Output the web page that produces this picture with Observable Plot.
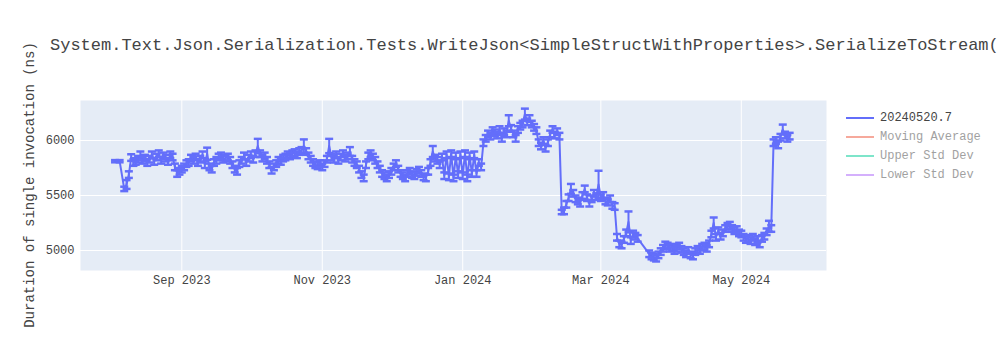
<!DOCTYPE html>
<html>
<head>
<meta charset="utf-8">
<script src="https://cdn.jsdelivr.net/npm/d3@7"></script>
<script src="https://cdn.jsdelivr.net/npm/@observablehq/plot@0.6"></script>
<style>
  html, body { margin: 0; padding: 0; background: #fff; }
  #wrap { position: relative; width: 1000px; height: 350px; overflow: hidden; font-family: "Courier New", "Liberation Mono", monospace; }
  #title { position: absolute; left: 50px; top: 36px; font-size: 17px; color: #444; white-space: nowrap; }
  #ylabel { position: absolute; left: 30px; top: 185px; font-size: 14px; color: #444; white-space: nowrap; transform: translate(-50%, -50%) rotate(-90deg); }
  #legend { position: absolute; left: 846px; top: 108px; font-size: 12px; color: #444; }
  .item { height: 19px; display: flex; align-items: center; white-space: nowrap; }
  .swatch { width: 28px; height: 2px; margin-right: 6px; }
  .off { opacity: 0.5; }
</style>
</head>
<body>
<div id="wrap">
  <div id="chart"></div>
  <div id="title"></div>
  <div id="ylabel"></div>
  <div id="legend"></div>
</div>
<script>
const chartTitle = "System.Text.Json.Serialization.Tests.WriteJson<SimpleStructWithProperties>.SerializeToStream(";
const yLabel = "Duration of single invocation (ns)";
const seriesNames = ["20240520.7", "Moving Average", "Upper Std Dev", "Lower Std Dev"];
const seriesColors = ["#636efa", "#EF553B", "#00cc96", "#ab63fa"];
const seriesVisible = [true, false, false, false];
const xTicks = ["2023-09-01", "2023-11-01", "2024-01-01", "2024-03-01", "2024-05-01"];
const yTicks = [5000, 5500, 6000];

const dates = [
  "2023-08-03","2023-08-05","2023-08-07","2023-08-08","2023-08-09","2023-08-10","2023-08-11","2023-08-12","2023-08-13","2023-08-14","2023-08-15","2023-08-16","2023-08-17","2023-08-18","2023-08-19","2023-08-20","2023-08-21","2023-08-22","2023-08-23","2023-08-24","2023-08-25","2023-08-26","2023-08-27","2023-08-28","2023-08-29","2023-08-30","2023-08-31",
  "2023-09-01","2023-09-02","2023-09-03","2023-09-04","2023-09-05","2023-09-06","2023-09-07","2023-09-08","2023-09-09","2023-09-10","2023-09-11","2023-09-12","2023-09-13","2023-09-14","2023-09-15","2023-09-16","2023-09-17","2023-09-18","2023-09-19","2023-09-20","2023-09-21","2023-09-22","2023-09-23","2023-09-24","2023-09-25","2023-09-26","2023-09-27","2023-09-28","2023-09-29","2023-09-30",
  "2023-10-01","2023-10-02","2023-10-03","2023-10-04","2023-10-05","2023-10-06","2023-10-07","2023-10-08","2023-10-09","2023-10-10","2023-10-11","2023-10-12","2023-10-13","2023-10-14","2023-10-15","2023-10-16","2023-10-17","2023-10-18","2023-10-19","2023-10-20","2023-10-21","2023-10-22","2023-10-23","2023-10-24","2023-10-25","2023-10-26","2023-10-27","2023-10-28","2023-10-29","2023-10-30","2023-10-31",
  "2023-11-01","2023-11-02","2023-11-03","2023-11-04","2023-11-05","2023-11-06","2023-11-07","2023-11-08","2023-11-09","2023-11-10","2023-11-11","2023-11-12","2023-11-13","2023-11-14","2023-11-15","2023-11-16","2023-11-17","2023-11-18","2023-11-19","2023-11-20","2023-11-21","2023-11-22","2023-11-23","2023-11-24","2023-11-25","2023-11-26","2023-11-27","2023-11-28","2023-11-29","2023-11-30",
  "2023-12-01","2023-12-02","2023-12-03","2023-12-04","2023-12-05","2023-12-06","2023-12-07","2023-12-08","2023-12-09","2023-12-10","2023-12-11","2023-12-12","2023-12-13","2023-12-14","2023-12-15","2023-12-16","2023-12-17","2023-12-18","2023-12-19","2023-12-20","2023-12-21","2023-12-22","2023-12-23","2023-12-24","2023-12-25","2023-12-26","2023-12-27","2023-12-28","2023-12-29","2023-12-30","2023-12-31",
  "2024-01-01","2024-01-02","2024-01-03","2024-01-04","2024-01-05","2024-01-06","2024-01-07","2024-01-08","2024-01-09","2024-01-10","2024-01-11","2024-01-12","2024-01-13","2024-01-14","2024-01-15","2024-01-16","2024-01-17","2024-01-18","2024-01-19","2024-01-20","2024-01-21","2024-01-22","2024-01-23","2024-01-24","2024-01-25","2024-01-26","2024-01-27","2024-01-28","2024-01-29","2024-01-30","2024-01-31",
  "2024-02-01","2024-02-02","2024-02-03","2024-02-04","2024-02-05","2024-02-06","2024-02-07","2024-02-08","2024-02-09","2024-02-10","2024-02-11","2024-02-12","2024-02-13","2024-02-14","2024-02-15","2024-02-16","2024-02-17","2024-02-18","2024-02-19","2024-02-20","2024-02-21","2024-02-22","2024-02-23","2024-02-24","2024-02-25","2024-02-26","2024-02-27","2024-02-28","2024-02-29",
  "2024-03-01","2024-03-02","2024-03-03","2024-03-04","2024-03-05","2024-03-06","2024-03-07","2024-03-08","2024-03-09","2024-03-10","2024-03-11","2024-03-12","2024-03-13","2024-03-14","2024-03-15","2024-03-16","2024-03-17","2024-03-22","2024-03-23","2024-03-24","2024-03-25","2024-03-26","2024-03-27","2024-03-28","2024-03-29","2024-03-30","2024-03-31",
  "2024-04-01","2024-04-02","2024-04-03","2024-04-04","2024-04-05","2024-04-06","2024-04-07","2024-04-08","2024-04-09","2024-04-10","2024-04-11","2024-04-12","2024-04-13","2024-04-14","2024-04-15","2024-04-16","2024-04-17","2024-04-18","2024-04-19","2024-04-20","2024-04-21","2024-04-22","2024-04-23","2024-04-24","2024-04-25","2024-04-26","2024-04-27","2024-04-28","2024-04-29","2024-04-30",
  "2024-05-01","2024-05-02","2024-05-03","2024-05-04","2024-05-05","2024-05-06","2024-05-07","2024-05-08","2024-05-09","2024-05-10","2024-05-11","2024-05-12","2024-05-13","2024-05-14","2024-05-15","2024-05-16","2024-05-17","2024-05-18","2024-05-19","2024-05-20","2024-05-21","2024-05-22"
];

const durations = [
  5812,5812,5560,5600,5690,5845,5800,5810,5830,5860,5820,5840,5800,5830,5870,5810,5850,5880,5820,5860,5840,5810,5870,5850,5760,5700,5720,
  5740,5760,5790,5800,5840,5820,5850,5800,5830,5870,5780,5880,5760,5740,5800,5820,5850,5860,5830,5840,5850,5820,5780,5740,5720,5790,5820,5860,5800,5840,
  5870,5830,5880,5950,5880,5840,5860,5820,5780,5730,5760,5790,5820,5810,5840,5850,5870,5860,5880,5890,5870,5900,5910,5950,5900,5860,5830,5800,5780,5770,5790,
  5760,5790,5830,5950,5850,5830,5870,5820,5850,5880,5840,5860,5900,5830,5800,5780,5740,5690,5660,5780,5860,5880,5850,5820,5780,5740,5700,5680,5660,5690,
  5720,5760,5790,5740,5700,5680,5660,5700,5720,5690,5680,5710,5730,5700,5670,5660,5720,5800,5900,5840,5820,5780,5850,5680,5870,5670,5880,5660,5860,5690,5870,
  5680,5880,5660,5860,5700,5870,5700,5800,5760,5980,6020,6060,6040,6090,6070,6050,6100,6020,6080,6060,6180,6110,6060,6020,6100,6130,6150,6240,6170,6200,6150,
  6120,6090,5980,5950,6000,5930,5980,6060,6100,6050,6080,6040,5350,5360,5420,5480,5560,5520,5470,5450,5430,5500,5560,5480,5430,5470,5520,5490,5600,
  5480,5500,5450,5440,5470,5410,5400,5120,5060,5050,5100,5160,5260,5090,5150,5130,5110,4970,4950,4940,4930,4960,4990,5020,5050,5040,5020,
  5030,5000,5020,5040,5010,4990,4970,5000,4960,4950,4990,5010,5000,5030,5040,5020,5060,5150,5250,5120,5180,5130,5160,5200,5220,5230,5200,5180,5190,5160,
  5150,5120,5100,5110,5090,5120,5080,5100,5060,5110,5130,5170,5220,5200,5980,6000,5960,6030,6100,6050,6020,6040
];

const stdDevs = [
  10,10,20,40,30,30,30,30,30,40,30,30,30,30,30,30,30,30,30,30,30,30,30,30,30,30,30,
  30,30,30,30,30,30,30,30,30,30,30,55,30,30,30,30,30,30,30,30,30,30,30,30,30,30,30,30,30,30,
  30,30,30,65,30,30,30,30,30,30,30,30,30,30,30,30,30,30,30,30,30,30,30,60,30,30,30,30,30,30,30,
  30,30,30,65,30,30,30,30,30,30,30,30,40,30,30,30,30,30,30,30,30,30,30,30,30,30,30,30,30,30,
  30,30,30,30,30,30,30,30,30,30,30,30,30,30,30,30,30,30,50,30,30,30,30,30,30,30,30,30,30,30,30,
  30,30,30,30,30,30,30,30,30,30,30,30,30,30,30,30,30,30,30,30,50,30,30,30,30,30,30,50,30,30,30,
  30,30,30,30,30,30,30,30,30,30,30,30,20,30,30,30,45,30,30,30,30,30,30,30,30,30,30,30,125,
  30,30,30,30,30,30,30,30,30,30,30,30,95,30,30,30,30,30,30,30,30,30,30,30,30,30,30,
  30,30,30,30,30,30,30,30,30,30,30,30,30,30,30,30,30,30,50,30,30,30,30,30,30,30,30,30,30,30,
  30,30,30,30,30,30,30,30,30,30,30,30,50,30,30,30,30,30,45,30,30,30
];

const data = dates.map((d, i) => ({
  date: new Date(d),
  value: durations[i],
  lo: durations[i] - stdDevs[i],
  hi: durations[i] + stdDevs[i]
}));

const capSymbol = {
  draw(context, size) {
    const w = Math.sqrt(size / Math.PI);
    context.moveTo(-w, 0);
    context.lineTo(w, 0);
  }
};

const blue = seriesColors[0];
const xTickDates = xTicks.map(d => new Date(d));

const chart = Plot.plot({
  width: 1000,
  height: 350,
  marginLeft: 80,
  marginRight: 174,
  marginTop: 100,
  marginBottom: 80,
  style: { fontFamily: "'Courier New', 'Liberation Mono', monospace", fontSize: "12px", color: "#444", background: "white", overflow: "visible" },
  x: { type: "utc", domain: [new Date("2023-07-19"), new Date("2024-06-07")], label: null },
  y: { domain: [4818, 6364], label: null },
  marks: [
    Plot.frame({ fill: "#e5ecf6", stroke: null }),
    Plot.gridX(xTickDates, { stroke: "white", strokeOpacity: 1, strokeWidth: 1 }),
    Plot.gridY(yTicks, { stroke: "white", strokeOpacity: 1, strokeWidth: 1 }),
    Plot.axisX(xTickDates, { tickSize: 0, tickPadding: 5, tickFormat: d3.utcFormat("%b %Y"), label: null, fill: "#444" }),
    Plot.axisY(yTicks, { tickSize: 0, tickPadding: 6, tickFormat: d3.format("d"), label: null, fill: "#444" }),
    Plot.ruleX(data, { x: "date", y1: "lo", y2: "hi", stroke: blue, strokeWidth: 2 }),
    Plot.line(data, { x: "date", y: "value", stroke: blue, strokeWidth: 2 }),
    Plot.dot(data, { x: "date", y: "lo", symbol: capSymbol, r: 4, stroke: blue, strokeWidth: 2.5 }),
    Plot.dot(data, { x: "date", y: "hi", symbol: capSymbol, r: 4, stroke: blue, strokeWidth: 2.5 })
  ]
});
document.getElementById("chart").appendChild(chart);
document.getElementById("title").textContent = chartTitle;
document.getElementById("ylabel").textContent = yLabel;

const legend = document.getElementById("legend");
seriesNames.forEach((name, i) => {
  const item = document.createElement("div");
  item.className = "item" + (seriesVisible[i] ? "" : " off");
  const sw = document.createElement("div");
  sw.className = "swatch";
  sw.style.background = seriesColors[i];
  const label = document.createElement("span");
  label.textContent = name;
  item.appendChild(sw);
  item.appendChild(label);
  legend.appendChild(item);
});
</script>
</body>
</html>
